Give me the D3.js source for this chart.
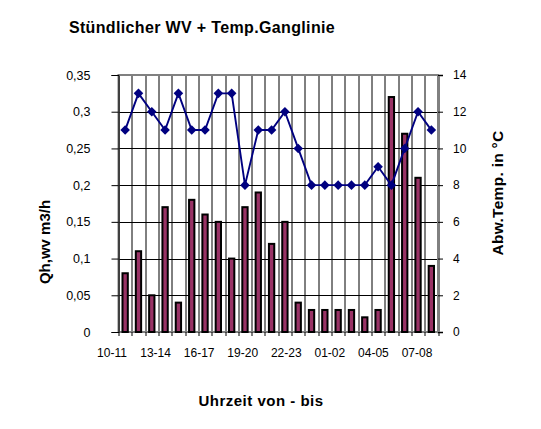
<!DOCTYPE html>
<html>
<head>
<meta charset="utf-8">
<script src="https://cdn.jsdelivr.net/npm/d3@7"></script>
<style>
  html, body { margin: 0; padding: 0; background: #fff; }
  svg { display: block; font-family: "Liberation Sans", Arial, sans-serif; }
</style>
</head>
<body>
<script>
// hourly categories (von - bis)
var hours = ["10-11", "11-12", "12-13", "13-14", "14-15", "15-16", "16-17", "17-18",
  "18-19", "19-20", "20-21", "21-22", "22-23", "23-00", "00-01", "01-02",
  "02-03", "03-04", "04-05", "05-06", "06-07", "07-08", "08-09", "09-10"];
// Qh,wv in m3/h (bars, left axis)
var flow = [0.08, 0.11, 0.05, 0.17, 0.04, 0.18, 0.16, 0.15, 0.10, 0.17, 0.19, 0.12,
  0.15, 0.04, 0.03, 0.03, 0.03, 0.03, 0.02, 0.03, 0.32, 0.27, 0.21, 0.09];
// Abw.Temp. in °C (line, right axis)
var temp = [11, 13, 12, 11, 13, 11, 11, 13, 13, 8, 11, 11,
  12, 10, 8, 8, 8, 8, 8, 9, 8, 10, 12, 11];
var leftTicks = [0, 0.05, 0.1, 0.15, 0.2, 0.25, 0.3, 0.35];
var rightTicks = [0, 2, 4, 6, 8, 10, 12, 14];
// only every third hour gets a label
var xLabels = hours.filter(function (h, i) { return i % 3 === 0; });

var W = 541, H = 429;
var plot = { left: 118.5, top: 75, width: 319.5, height: 257 };

var de = d3.formatLocale({ decimal: ",", thousands: ".", grouping: [3], currency: ["", " €"] });
var fmt = de.format("~g");

var svg = d3.select("body").append("svg").attr("width", W).attr("height", H);

var x = d3.scaleBand().domain(hours).range([0, plot.width]).paddingInner(0).paddingOuter(0);
var yL = d3.scaleLinear().domain([0, 0.35]).range([plot.height, 0]);
var yR = d3.scaleLinear().domain([0, 14]).range([plot.height, 0]);
// Excel spreads the labels a bit wider than the categories
var xl = d3.scalePoint().domain(xLabels).range([-6.5, plot.width - 21]);

var g = svg.append("g").attr("transform", "translate(" + plot.left + "," + plot.top + ")");

// grid
g.append("g").selectAll("line")
  .data(leftTicks)
  .enter()
  .append("line")
  .attr("x1", 0).attr("x2", plot.width)
  .attr("y1", function (d) { return Math.round(yL(d)) + 0.5; })
  .attr("y2", function (d) { return Math.round(yL(d)) + 0.5; })
  .attr("stroke", "#000");

var bounds = hours.map(function (h) { return x(h); }).concat([plot.width]);
g.append("g").selectAll("line")
  .data(bounds)
  .enter()
  .append("line")
  .attr("x1", function (d) { return Math.round(d) + 0.5; })
  .attr("x2", function (d) { return Math.round(d) + 0.5; })
  .attr("y1", 0).attr("y2", plot.height)
  .attr("stroke", "#000");

// plot area border
g.append("rect")
  .attr("x", 0).attr("y", 0)
  .attr("width", plot.width).attr("height", plot.height)
  .attr("fill", "none")
  .attr("stroke", "#808080")
  .attr("stroke-width", 2);

// bars
var bw = x.bandwidth() * 0.4;
g.append("g").selectAll("rect")
  .data(flow)
  .enter()
  .append("rect")
  .attr("x", function (d, i) { return x(hours[i]) + (x.bandwidth() - bw) / 2; })
  .attr("y", function (d) { return yL(d); })
  .attr("width", bw)
  .attr("height", function (d) { return plot.height - yL(d); })
  .attr("fill", "#993366")
  .attr("stroke", "#000")
  .attr("stroke-width", 2);

// temperature line
var line = d3.line()
  .x(function (d, i) { return x(hours[i]) + x.bandwidth() / 2; })
  .y(function (d) { return yR(d); });
g.append("path")
  .datum(temp)
  .attr("d", line)
  .attr("fill", "none")
  .attr("stroke", "#000080")
  .attr("stroke-width", 1.9);
g.append("g").selectAll("path")
  .data(temp)
  .enter()
  .append("path")
  .attr("d", d3.symbol().type(d3.symbolSquare).size(46))
  .attr("transform", function (d, i) {
    return "translate(" + (x(hours[i]) + x.bandwidth() / 2) + "," + yR(d) + ") rotate(45)";
  })
  .attr("fill", "#000080");

// left axis
var axL = g.append("g")
  .call(d3.axisLeft(yL).tickValues(leftTicks).tickFormat(fmt).tickSize(7).tickPadding(21));
axL.select(".domain").attr("stroke", "#000");
axL.selectAll("text").attr("font-size", 12.5).attr("font-family", "Liberation Sans, Arial, sans-serif");

// right axis
var axR = g.append("g")
  .attr("transform", "translate(" + plot.width + ",0)")
  .call(d3.axisRight(yR).tickValues(rightTicks).tickSize(5).tickPadding(10));
axR.select(".domain").attr("stroke", "#808080").attr("stroke-width", 2);
axR.selectAll("line").attr("stroke", "#000");
axR.selectAll("text").attr("font-size", 12).attr("font-family", "Liberation Sans, Arial, sans-serif");

// bottom tick marks at category boundaries
g.append("g").selectAll("line")
  .data(bounds)
  .enter()
  .append("line")
  .attr("x1", function (d) { return Math.round(d) + 0.5; })
  .attr("x2", function (d) { return Math.round(d) + 0.5; })
  .attr("y1", plot.height).attr("y2", plot.height + 4)
  .attr("stroke", "#000");

g.append("g").selectAll("text")
  .data(xLabels)
  .enter()
  .append("text")
  .attr("x", function (d) { return xl(d); })
  .attr("y", plot.height + 25)
  .attr("text-anchor", "middle")
  .attr("font-size", 12)
  .text(function (d) { return d; });

// titles
svg.append("text")
  .attr("x", 202).attr("y", 33)
  .attr("text-anchor", "middle")
  .attr("font-size", 16).attr("font-weight", "bold")
  .attr("letter-spacing", 0.35)
  .text("Stündlicher WV + Temp.Ganglinie");

svg.append("text")
  .attr("x", 261).attr("y", 406)
  .attr("text-anchor", "middle")
  .attr("font-size", 15).attr("font-weight", "bold")
  .attr("letter-spacing", 0.5)
  .text("Uhrzeit von - bis");

svg.append("text")
  .attr("transform", "translate(50,242) rotate(-90)")
  .attr("text-anchor", "middle")
  .attr("font-size", 15).attr("font-weight", "bold")
  .text("Qh,wv m3/h");

svg.append("text")
  .attr("transform", "translate(503,193) rotate(-90)")
  .attr("text-anchor", "middle")
  .attr("font-size", 15.5).attr("font-weight", "bold")
  .attr("letter-spacing", 0.3)
  .text("Abw.Temp. in °C");
</script>
</body>
</html>
